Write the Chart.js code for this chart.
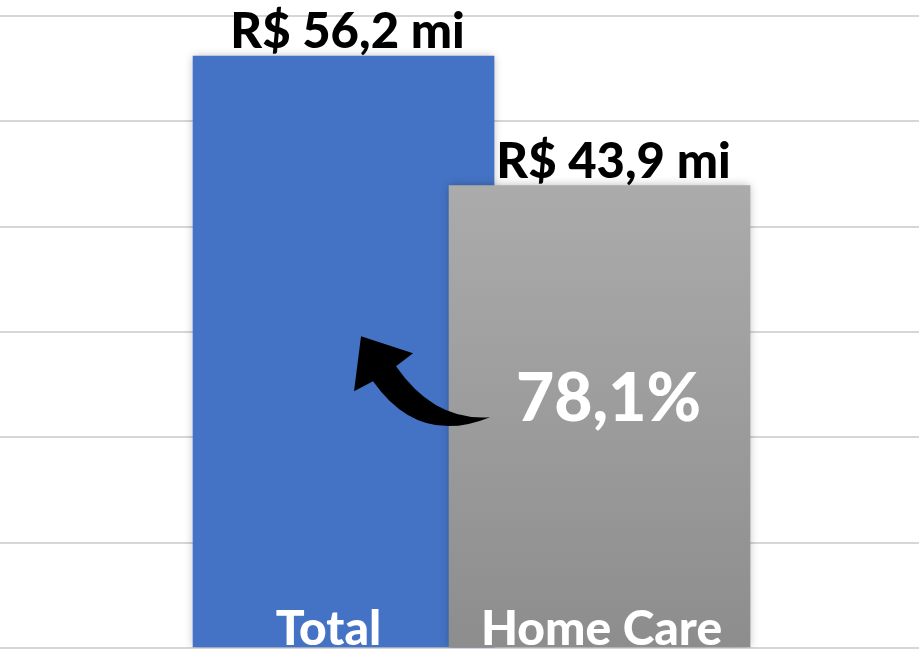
<!DOCTYPE html>
<html>
<head>
<meta charset="utf-8">
<script src="https://cdn.jsdelivr.net/npm/chart.js@4"></script>
<style>
  html, body { margin: 0; padding: 0; background: #fff; }
  #wrap { width: 919px; height: 649px; }
</style>
</head>
<body>
<div id="wrap"><canvas id="chart" width="919" height="649"></canvas></div>
<script>
// dados do gráfico
const categorias = ['Total', 'Home Care'];
const valores = [56.2, 43.9];
const rotulosValor = ['R$ 56,2 mi', 'R$ 43,9 mi'];
const percentual = '78,1%';
const corAzul = '#4472c4';

const FONTE = 'Lato, "Open Sans", sans-serif';

// rótulos, seta e percentual desenhados por cima das barras
const rotulosPlugin = {
    id: 'rotulos',
    beforeDatasetsDraw(chart) {
        const ctx = chart.ctx;
        ctx.save();
        ctx.shadowColor = 'rgba(0,0,0,0.28)';
        ctx.shadowBlur = 9;
        ctx.shadowOffsetX = 0;
    },
    afterDatasetsDraw(chart) {
        const ctx = chart.ctx;
        ctx.restore();
        const barras = chart.getDatasetMeta(0).data;
        ctx.save();
        ctx.textAlign = 'center';
        ctx.textBaseline = 'alphabetic';

        // valores acima das barras
        ctx.fillStyle = '#000';
        ctx.font = '900 49px ' + FONTE;
        const desloc = [4, 14];
        barras.forEach((b, i) => {
            ctx.fillText(rotulosValor[i], b.x + desloc[i], b.y - 8);
        });

        // nomes das categorias dentro das barras
        ctx.fillStyle = '#fff';
        ctx.font = '900 48px ' + FONTE;
        const deslocCat = [-15, 2];
        barras.forEach((b, i) => {
            ctx.fillText(categorias[i], b.x + deslocCat[i], b.base - 2);
        });

        // percentual
        const hc = barras[1];
        const oy = chart.scales.y.getPixelForValue(22.2);
        ctx.font = '900 66px ' + FONTE;
        ctx.fillText(percentual, hc.x + 9, oy + 7);

        // seta curva
        const ox = hc.x - hc.width / 2;   // borda esquerda da barra cinza
        ctx.fillStyle = '#000';
        ctx.beginPath();
        ctx.moveTo(ox + 41, oy + 3);
        ctx.quadraticCurveTo(ox - 30, oy + 32, ox - 76, oy - 33);
        ctx.lineTo(ox - 95, oy - 23);
        ctx.lineTo(ox - 88, oy - 78);
        ctx.lineTo(ox - 36, oy - 61);
        ctx.lineTo(ox - 53, oy - 48);
        ctx.quadraticCurveTo(ox - 15, oy + 7, ox + 41, oy + 3);
        ctx.closePath();
        ctx.fill();
        ctx.restore();
    }
};

const ctx = document.getElementById('chart');
new Chart(ctx, {
    type: 'bar',
    data: {
        datasets: [{
            data: valores.map((v, i) => ({ x: i, y: v })),
            backgroundColor: (c) => {
                if (c.dataIndex === 0) return corAzul;
                const area = c.chart.chartArea;
                if (!area) return '#9c9c9c';
                const topo = c.chart.scales.y.getPixelForValue(valores[1]);
                const g = c.chart.ctx.createLinearGradient(0, topo, 0, area.bottom);
                g.addColorStop(0, '#ababab');
                g.addColorStop(1, '#8d8d8d');
                return g;
            },
            borderWidth: 0,
            barThickness: 301
        }]
    },
    options: {
        responsive: false,
        animation: false,
        layout: { padding: { top: 16, bottom: 1, left: 0, right: 0 } },
        plugins: {
            legend: { display: false },
            tooltip: { enabled: false }
        },
        scales: {
            x: {
                type: 'linear',
                offset: false,
                min: -1.342,
                max: 2.248,
                display: false,
                grid: { display: false, offset: false }
            },
            y: {
                min: 0,
                max: 60,
                ticks: { stepSize: 10, display: false },
                border: { display: false },
                grid: { color: '#d6d6d6', lineWidth: 2, drawTicks: false },
                afterFit(scale) { scale.width = 0; }
            }
        }
    },
    plugins: [rotulosPlugin]
});
</script>
</body>
</html>
